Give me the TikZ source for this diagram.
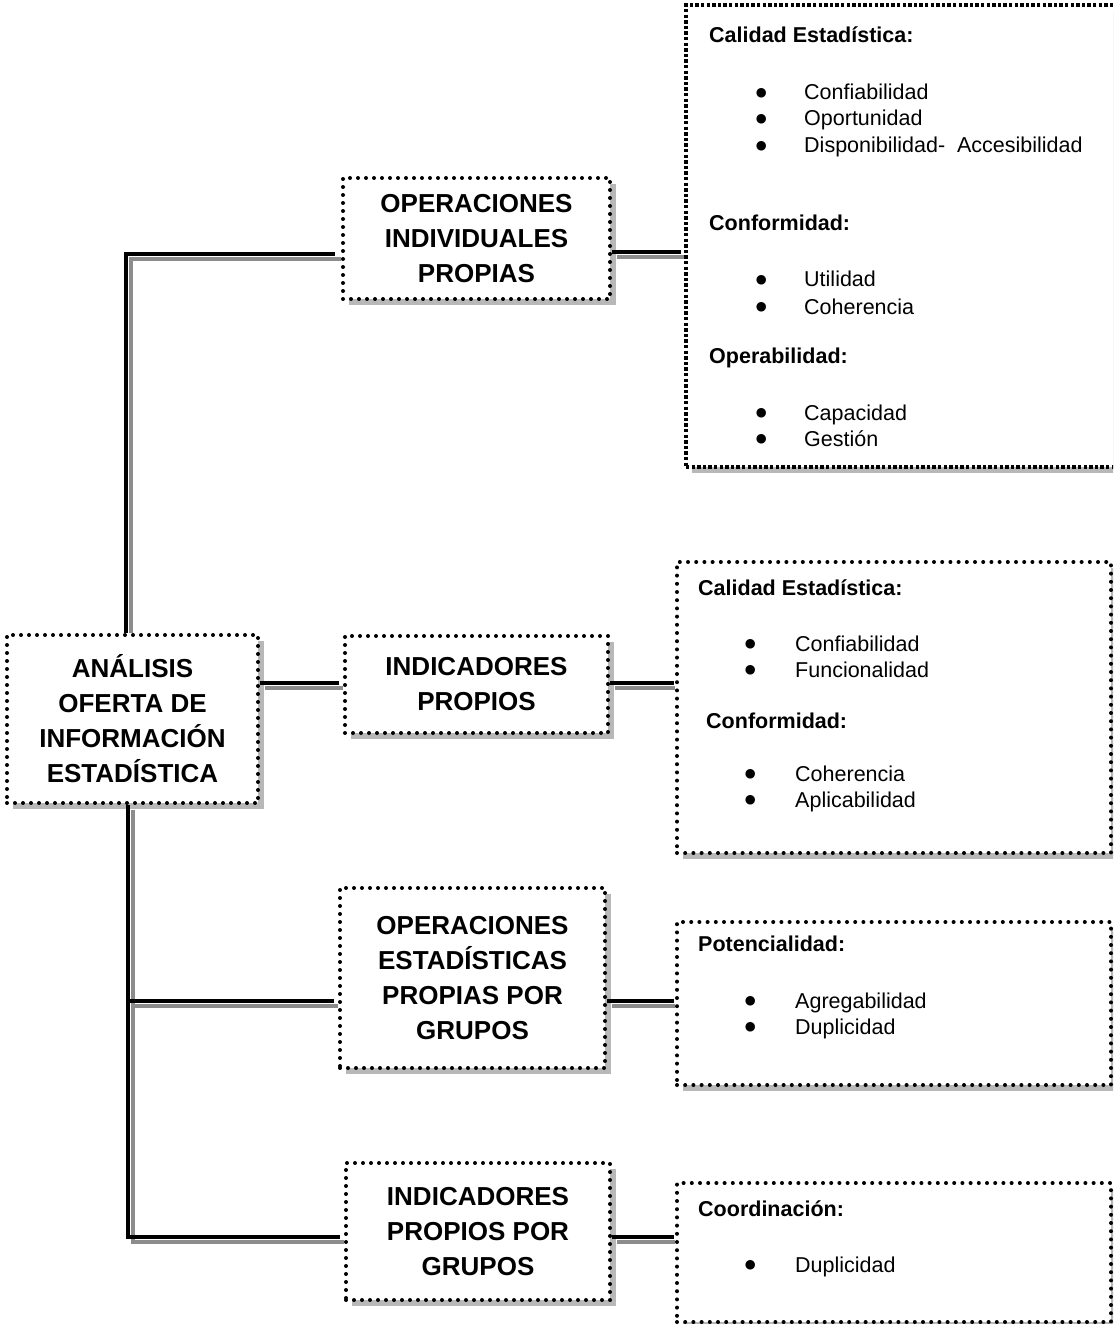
\documentclass[tikz,border=0pt]{standalone}
\usepackage{fontspec}
\setmainfont{Liberation Sans}
\newfontfamily\bulfont{DejaVu Sans}
\usetikzlibrary{shadows}
\definecolor{shadowfill}{RGB}{184,184,184}
\definecolor{lineshadow}{RGB}{140,140,140}
\newcommand{\bulx}{\makebox[0pt]{\bulfont\fontsize{12.5}{12.5}\selectfont\raisebox{3.5pt}{●}}}
\tikzset{
  dropsh/.style={drop shadow={shadow xshift=6pt,shadow yshift=-6pt,fill=shadowfill,opacity=1}},
  midbox/.style={draw=black, fill=white, line width=4pt, line cap=round,
    dash pattern=on 0pt off 8pt, dropsh, align=center, inner sep=0pt,
    font=\bfseries\fontsize{26}{35}\selectfont},
  rboxA/.style={draw=black, fill=white, line width=3.6pt, dash pattern=on 3.4pt off 2.2pt, dropsh, inner sep=0pt},
  rbox/.style={draw=black, fill=white, line width=4pt, line cap=round,
    dash pattern=on 0pt off 8.2pt, dropsh, inner sep=0pt},
  conn/.style={line width=4pt, draw=black},
  connsh/.style={line width=4pt, draw=lineshadow, transform canvas={xshift=5pt,yshift=-5pt}},
  head/.style={anchor=base west, inner sep=0pt, font=\bfseries\fontsize{21.5}{25}\selectfont},
  item/.style={anchor=base west, inner sep=0pt, font=\fontsize{21.5}{25}\selectfont},
}
\begin{document}
\begin{tikzpicture}[x=1pt,y=-1pt]
\useasboundingbox (0,0) rectangle (1113,1324);
\clip (0,0) rectangle (1113,1324);
\fill[white] (0,0) rectangle (1113,1324);

% main boxes
\node[midbox, minimum width=251pt, minimum height=168pt] (main) at (132.5,719) {ANÁLISIS\\OFERTA DE\\INFORMACIÓN\\ESTADÍSTICA};
\node[midbox, minimum width=267pt, minimum height=121pt] (b1) at (476.5,238.5) {OPERACIONES\\INDIVIDUALES\\PROPIAS};
\node[midbox, minimum width=263pt, minimum height=97pt] (b2) at (476.5,684.5) {INDICADORES\\PROPIOS};
\node[midbox, minimum width=265pt, minimum height=180pt] (b3) at (472.5,978) {OPERACIONES\\ESTADÍSTICAS\\PROPIAS POR\\GRUPOS};
\node[midbox, minimum width=264pt, minimum height=137pt] (b4) at (478,1231.5) {INDICADORES\\PROPIOS POR\\GRUPOS};

% right boxes
\node[rboxA, minimum width=439pt, minimum height=462pt] (r1) at (905.5,236) {};
\node[rbox, minimum width=434pt, minimum height=291pt] (r2) at (894,707.5) {};
\node[rbox, minimum width=434pt, minimum height=163pt] (r3) at (894,1003.5) {};
\node[rbox, minimum width=434pt, minimum height=139pt] (r4) at (894,1252.5) {};

% right box 1 texts
\node[head] (r1h1) at (709,43) {Calidad Estadística:};
\node[item] (r1i1) at (761,100) {\bulx\hspace{43pt}Confiabilidad};
\node[item] (r1i2) at (761,126) {\bulx\hspace{43pt}Oportunidad};
\node[item] (r1i3) at (761,153) {\bulx\hspace{43pt}Disponibilidad-\ \ Accesibilidad};
\node[head] (r1h2) at (709,231) {Conformidad:};
\node[item] (r1i4) at (761,287) {\bulx\hspace{43pt}Utilidad};
\node[item] (r1i5) at (761,314) {\bulx\hspace{43pt}Coherencia};
\node[head] (r1h3) at (709,363) {Operabilidad:};
\node[item] (r1i6) at (761,420) {\bulx\hspace{43pt}Capacidad};
\node[item] (r1i7) at (761,446) {\bulx\hspace{43pt}Gestión};

% right box 2 texts
\node[head] (r2h1) at (698,595) {Calidad Estadística:};
\node[item] (r2i1) at (750,651) {\bulx\hspace{45pt}Confiabilidad};
\node[item] (r2i2) at (750,677) {\bulx\hspace{45pt}Funcionalidad};
\node[head] (r2h2) at (706,728) {Conformidad:};
\node[item] (r2i3) at (750,781) {\bulx\hspace{45pt}Coherencia};
\node[item] (r2i4) at (750,807) {\bulx\hspace{45pt}Aplicabilidad};

% right box 3 texts
\node[head] (r3h1) at (698,951) {Potencialidad:};
\node[item] (r3i1) at (750,1008) {\bulx\hspace{45pt}Agregabilidad};
\node[item] (r3i2) at (750,1034) {\bulx\hspace{45pt}Duplicidad};

% right box 4 texts
\node[head] (r4h1) at (698,1216) {Coordinación:};
\node[item] (r4i1) at (750,1272) {\bulx\hspace{45pt}Duplicidad};

% connector levels
\coordinate (k1) at (126,254);
\coordinate (k2) at (0,683);
\coordinate (k3) at (128,1237);
\coordinate (k4) at (128,1001);
\coordinate (m1) at (0,252);
\coordinate (m2) at (0,683);
\coordinate (m3) at (0,1001);
\coordinate (m4) at (0,1237);

% connector shadows
\draw[connsh, shorten <=5pt, shorten >=5pt] (main.north -| k1) |- (b1.west |- k1);
\draw[connsh, shorten >=5pt] (main.east |- k2) -- (b2.west |- k2);
\draw[connsh, shorten >=5pt] (main.south -| k3) |- (b4.west |- k3);
\draw[connsh, shorten >=5pt] (k4) -- (b3.west |- k4);
\draw[connsh, shorten >=5pt] (b1.east |- m1) -- (r1.west |- m1);
\draw[connsh, shorten >=5pt] (b2.east |- m2) -- (r2.west |- m2);
\draw[connsh, shorten >=5pt] (b3.east |- m3) -- (r3.west |- m3);
\draw[connsh, shorten >=5pt] (b4.east |- m4) -- (r4.west |- m4);

% connectors
\draw[conn, shorten >=6pt] (main.north -| k1) |- (b1.west |- k1);
\draw[conn, shorten >=4pt] (main.east |- k2) -- (b2.west |- k2);
\draw[conn, shorten >=4pt] (main.south -| k3) |- (b4.west |- k3);
\draw[conn, shorten >=4pt] (k4) -- (b3.west |- k4);
\draw[conn, shorten >=3pt] (b1.east |- m1) -- (r1.west |- m1);
\draw[conn, shorten >=1pt] (b2.east |- m2) -- (r2.west |- m2);
\draw[conn, shorten >=1pt] (b3.east |- m3) -- (r3.west |- m3);
\draw[conn, shorten >=1pt] (b4.east |- m4) -- (r4.west |- m4);
\end{tikzpicture}
\end{document}
